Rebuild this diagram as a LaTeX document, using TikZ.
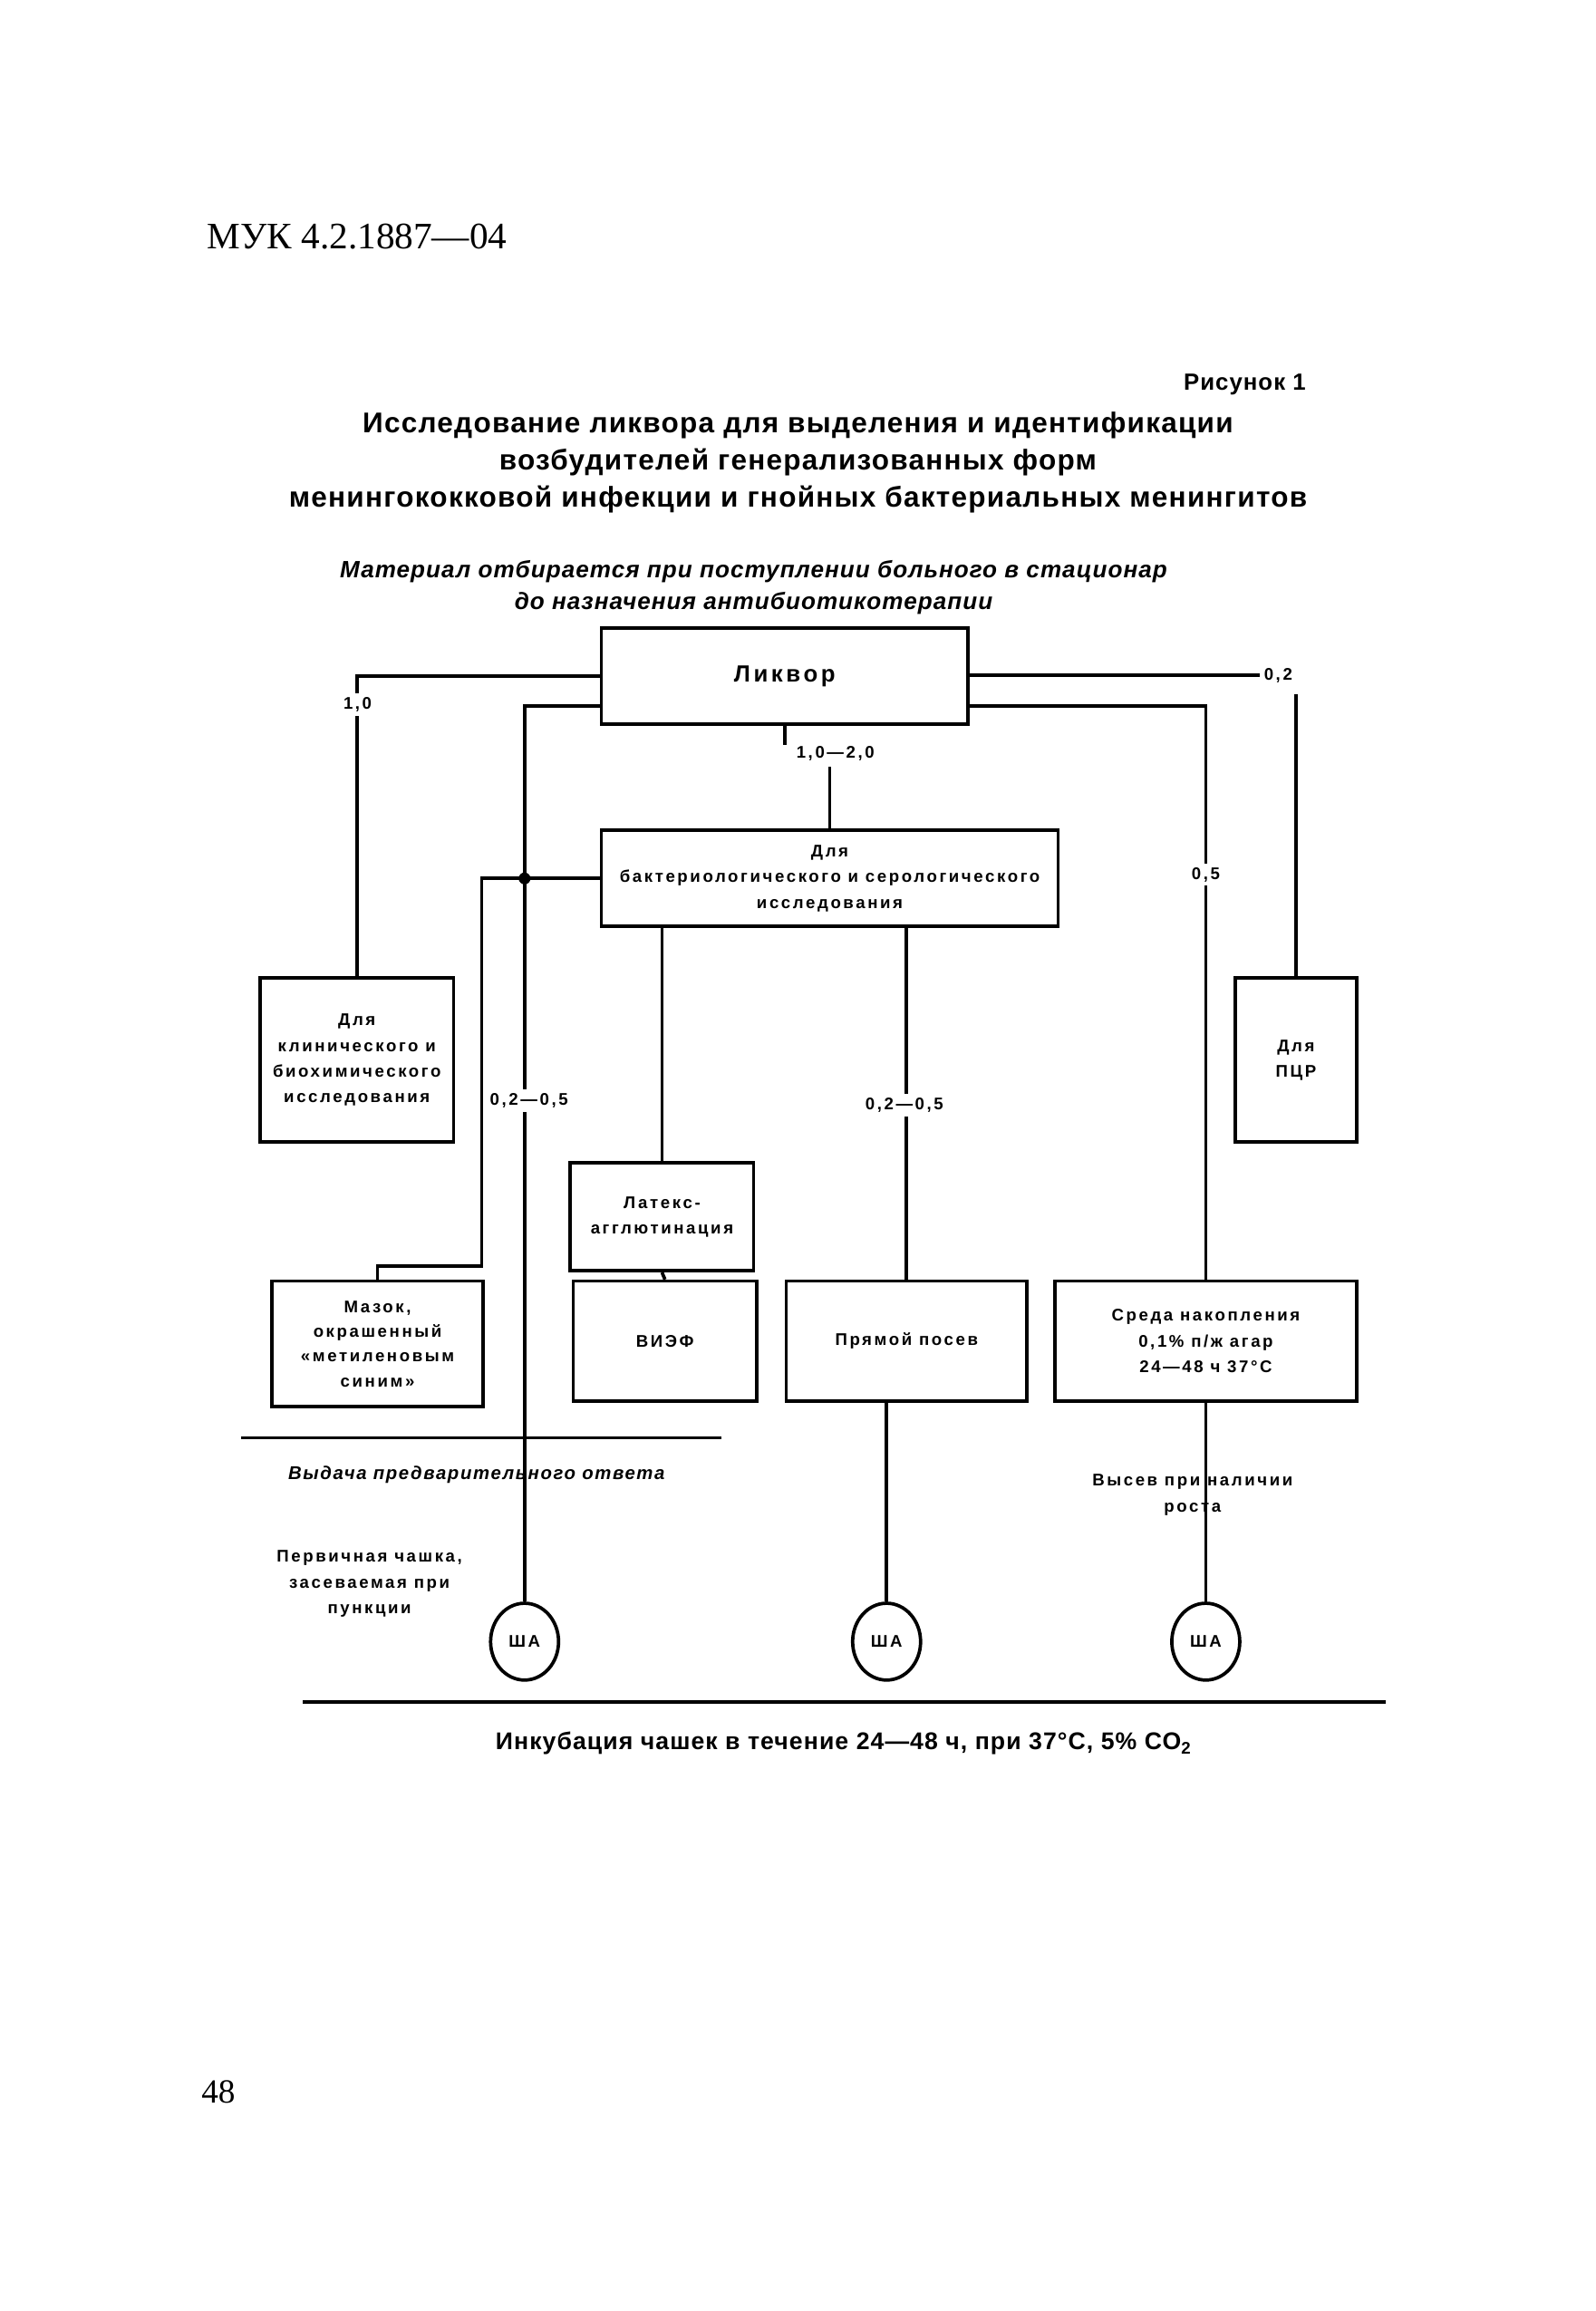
\documentclass[tikz,border=0pt]{standalone}
\usepackage{fontspec}
\setmainfont{Liberation Serif}
\newfontfamily\sansbox[LetterSpace=14]{Liberation Sans}
\newfontfamily\sanstitle[LetterSpace=4]{Liberation Sans}
\newfontfamily\sansnote[LetterSpace=8]{Liberation Sans}
\usetikzlibrary{shapes.geometric}

\tikzset{
  box/.style={draw, line width=1.3pt, align=center, inner sep=0pt,
    font=\sansbox\bfseries\fontsize{6.5}{9.9}\selectfont},
  lbl/.style={fill=white, inner sep=1.5pt,
    font=\sansbox\bfseries\fontsize{6.5}{9.9}\selectfont},
  plate/.style={ellipse, draw, line width=1.3pt, minimum width=9.2mm,
    minimum height=10.4mm, inner sep=0pt,
    font=\sansbox\bfseries\fontsize{6.5}{9.9}\selectfont},
  note/.style={align=center, inner sep=0pt,
    font=\sansbox\bfseries\fontsize{6.5}{10}\selectfont},
  link/.style={line width=1.3pt}
}

\begin{document}
\begin{tikzpicture}[x=0.2mm, y=-0.2mm]
    \useasboundingbox (0,0) rectangle (1080,1564);

    % шапка страницы
    \node[anchor=west, inner sep=0pt, font=\fontsize{14.4}{17}\selectfont] (head) at (140,160) {МУК 4.2.1887—04};
    \node[anchor=west, inner sep=0pt, font=\fontsize{13}{16}\selectfont] (page) at (136,1416) {48};

    % заголовок
    \node[anchor=east, inner sep=0pt, font=\sanstitle\bfseries\fontsize{9}{11}\selectfont] (fig) at (884,260) {Рисунок 1};
    \node[align=center, inner sep=0pt, font=\sanstitle\bfseries\fontsize{11}{14.2}\selectfont] (title) at (540,313)
      {Исследование ликвора для выделения и идентификации\\
       возбудителей генерализованных форм\\
       менингококковой инфекции и гнойных бактериальных менингитов};
    \node[align=center, inner sep=0pt, font=\sanstitle\bfseries\itshape\fontsize{9.1}{12}\selectfont] (sub) at (510,397.5)
      {Материал отбирается при поступлении больного в стационар\\
       до назначения антибиотикотерапии};

    % блоки
    \node[box, minimum width=49.6mm, minimum height=13mm, font=\sansbox\bfseries\fontsize{9}{11}\selectfont] (likvor) at (531,457.5) {Ликвор};
    \node[box, minimum width=61.8mm, minimum height=13mm] (bact) at (561.5,594.5) {Для\\бактериологического и серологического\\исследования};
    \node[box, minimum width=26.2mm, minimum height=22.2mm] (clin) at (241.5,717.5) {Для\\клинического и\\биохимического\\исследования};
    \node[box, minimum width=16.4mm, minimum height=22.2mm] (pcr) at (877,717.5) {Для\\ПЦР};
    \node[box, minimum width=24.8mm, minimum height=14.6mm] (latex) at (448,823.5) {Латекс-\\агглютинация};
    \node[box, minimum width=24.8mm, minimum height=16.2mm] (vief) at (450,907.5) {ВИЭФ};
    \node[box, minimum width=32.6mm, minimum height=16.2mm] (pryam) at (613.5,907.5) {Прямой посев};
    \node[box, minimum width=40.8mm, minimum height=16.2mm] (sreda) at (816,907.5) {Среда накопления\\0,1\% п/ж агар\\24—48 ч 37°С};
    \node[box, minimum width=28.6mm, minimum height=17mm, font=\sansbox\bfseries\fontsize{6.5}{9.5}\selectfont] (mazok) at (255.5,909.5) {Мазок,\\окрашенный\\«метиленовым\\синим»};

    % чашки
    \node[plate] (sha1) at (355,1111) {ША};
    \node[plate] (sha2) at (600,1111) {ША};
    \node[plate] (sha3) at (816,1111) {ША};

    % связи
    \node[lbl] (v3) at (865,457) {0,2};
    \draw[link] (likvor.west) -| (clin.north);
    \draw[link] ([yshift=-4.1mm]likvor.west) -| (sha1.north);
    \draw[link] (likvor.east |- v3.west) -- (v3.west);
    \draw[link] (pcr.north |- 0,470) -- (pcr.north);
    \draw[link] ([yshift=-4.1mm]likvor.east) -| (sreda.north);
    \draw[link] (likvor.south) -- ++(0,13);
    \draw[link] (bact.north) -- ++(0,-42);
    \coordinate (bend) at (326,857);
    \draw[link] (bact.west) -| (bend) -| (mazok.north);
    \fill (355,594.5) circle (0.8mm);
    \draw[link] (bact.south -| latex.north) -- (latex.north);
    \draw[link] (bact.south -| pryam.north) -- (pryam.north);
    \draw[link] (latex.south) -- (vief.north);
    \draw[link] (pryam.south -| sha2.north) -- (sha2.north);
    \draw[link] (sreda.south) -- (sha3.north);

    % объёмы
    \node[lbl] (v1) at (242,477) {1,0};
    \node[lbl] (v2) at (358,745) {0,2—0,5};
    \node[lbl] (v4) at (816,592) {0,5};
    \node[lbl, anchor=west] (v5) at (536,510) {1,0—2,0};
    \node[lbl] (v6) at (612,748) {0,2—0,5};

    % разделители
    \coordinate (s1a) at (163,973);
    \coordinate (s1b) at (488,973);
    \draw[link] (s1a) -- (s1b);
    \coordinate (s2a) at (205,1152);
    \coordinate (s2b) at (938,1152);
    \draw[link] (s2a) -- (s2b);

    % подписи
    \node[inner sep=0pt, font=\sansnote\bfseries\itshape\fontsize{7.1}{9}\selectfont] (answer) at (322.5,998) {Выдача предварительного ответа};
    \node[note] (first) at (250,1072) {Первичная чашка,\\засеваемая при\\пункции};
    \node[note] (vysev) at (807,1011.5) {Высев при наличии\\роста};
    \node[inner sep=0pt, font=\sanstitle\bfseries\fontsize{9.3}{11}\selectfont] (incub) at (571,1180) {Инкубация чашек в течение 24—48 ч, при 37°С, 5\% СО\textsubscript{2}};
\end{tikzpicture}
\end{document}
